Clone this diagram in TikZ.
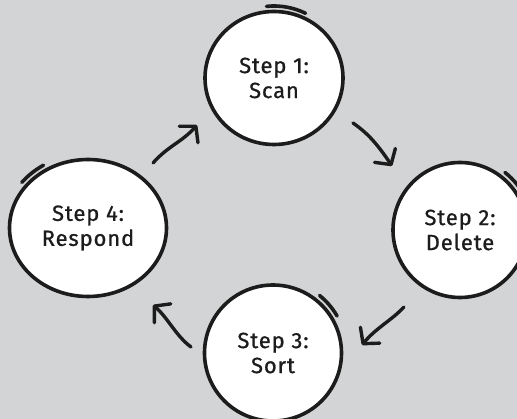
\documentclass[tikz,border=0pt]{standalone}
\usepackage{fontspec}
\setmainfont{Fira Sans}[LetterSpace=4,FakeBold=0.8]
\usetikzlibrary{shapes.geometric,arrows.meta}
\definecolor{bggray}{RGB}{211,212,213}
\definecolor{ink}{RGB}{28,28,28}
\begin{document}
\begin{tikzpicture}[x=1pt,y=-1pt,
  stepnode/.style={ellipse, draw=ink, fill=white, line width=3.6pt, inner sep=0pt,
    align=center, text=ink, font=\fontsize{22}{25}\selectfont},
  sketch/.style={draw=ink, line width=3.6pt, line cap=round},
  flow/.style={draw=ink, line width=3.4pt, line cap=round, line join=round,
    -{Straight Barb[length=11pt,width=25pt,line cap=round,line join=round]}}]
\fill[bggray] (0,0) rectangle (517,419);
\useasboundingbox (0,0) rectangle (517,419);
% nodes
\node[stepnode, minimum width=138pt, minimum height=133pt] (s1) at (274,78) {Step 1:\\Scan};
\node[stepnode, minimum width=134pt, minimum height=135pt] (s2) at (460,230) {Step 2:\\Delete};
\node[stepnode, minimum width=137pt, minimum height=136pt] (s3) at (273,353) {Step 3:\\Sort};
\node[stepnode, minimum width=157pt, minimum height=137pt] (s4) at (88,228) {Step 4:\\Respond};
% sketchy extra strokes
\draw[sketch] ([shift={(-96:72 and 72)}]s1.center) arc[start angle=-96, end angle=-64, x radius=72, y radius=72];
\draw[sketch] ([shift={(-52:73)}]s2.center) arc[start angle=-52, end angle=-25, radius=73];
\draw[sketch] ([shift={(-51:74)}]s3.center) arc[start angle=-51, end angle=-30, radius=74];
\draw[sketch] ([shift={(-142:84 and 74)}]s4.center) arc[start angle=-142, end angle=-122, x radius=84, y radius=74];
% arrow end points
\coordinate (a1s) at (153,163); \coordinate (a1e) at (197,125);
\coordinate (a2s) at (353,123); \coordinate (a2e) at (392,166);
\coordinate (a3s) at (404,307); \coordinate (a3e) at (362,345);
\coordinate (a4s) at (191,347); \coordinate (a4e) at (153,305);
\draw[flow] (a1s) .. controls (168,146) and (182,142) .. (a1e);
\draw[flow] (a2s) .. controls (366,132) and (376,142) .. (a2e);
\draw[flow] (a3s) .. controls (392,320) and (376,328) .. (a3e);
\draw[flow] (a4s) .. controls (176,336) and (168,318) .. (a4e);
\end{tikzpicture}
\end{document}
